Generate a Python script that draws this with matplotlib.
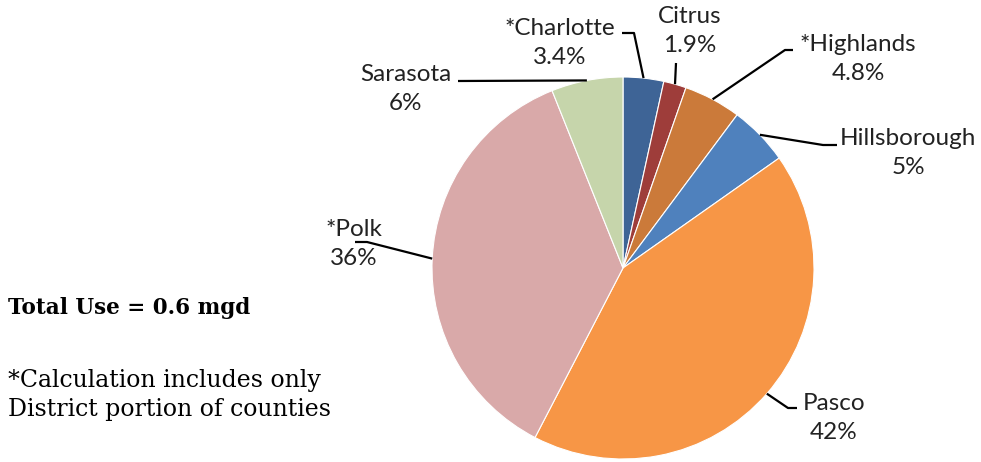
import numpy as np
import matplotlib
matplotlib.use('Agg')
import matplotlib.pyplot as plt

counties = ['*Charlotte', 'Citrus', '*Highlands', 'Hillsborough', 'Pasco', '*Polk', 'Sarasota']
share = [3.4, 1.9, 4.8, 5, 42, 36, 6]
pct_labels = ['3.4%', '1.9%', '4.8%', '5%', '42%', '36%', '6%']
colors = ['#3E6496', '#9E3D3A', '#CB7A3A', '#4F81BD', '#F79646', '#D9A9A9', '#C6D5AB']

W, H = 981, 462
CX, CY, R = 623, 268, 191

# label block centres, and where the leader line leaves the label (pixels)
label_pos = [(560, 43), (690, 31), (858, 59), (908, 153), (834, 418), (354, 244), (406, 89)]
leader_start = [(622, 33), (676, 63), (793, 50), (837, 145), (797, 408), (355, 242), (458, 81)]
leader_elbow = [(634, 33), (676, 63), (785, 50), (823, 145), (788, 408), (367, 242), (458, 81)]


def px(x, y):
    return (x - CX) / R, (CY - y) / R


fig = plt.figure(figsize=(W / 100, H / 100), dpi=100)
ax = fig.add_axes([(CX - R) / W, (H - CY - R) / H, 2 * R / W, 2 * R / H])
wedges, _ = ax.pie(share, colors=colors, startangle=90, counterclock=False,
                   radius=1, wedgeprops=dict(linewidth=0.8, edgecolor='white'))
ax.set_xlim(-1, 1)
ax.set_ylim(-1, 1)
ax.set_aspect('equal')
ax.axis('off')

for i, w in enumerate(wedges):
    ang = np.deg2rad((w.theta1 + w.theta2) / 2)
    ex, ey = np.cos(ang), np.sin(ang)
    sx, sy = px(*leader_start[i])
    bx, by = px(*leader_elbow[i])
    ax.plot([sx, bx, ex], [sy, by, ey], color='black', lw=1.6, clip_on=False,
            solid_capstyle='butt')
    tx, ty = px(*label_pos[i])
    ax.text(tx, ty, counties[i] + '\n' + pct_labels[i], ha='center', va='center',
            fontsize=17.5, family='Lato', color='#222222', linespacing=1.45,
            clip_on=False)

fig.text(8 / W, 1 - 308 / H, 'Total Use = 0.6 mgd', fontsize=15.5, fontweight='bold',
         family='DejaVu Serif', va='center', ha='left')
fig.text(8 / W, 1 - 395 / H, '*Calculation includes only\nDistrict portion of counties',
         fontsize=17, family='DejaVu Serif', va='center', ha='left', linespacing=1.3)

fig.savefig('out.png', dpi=100)
